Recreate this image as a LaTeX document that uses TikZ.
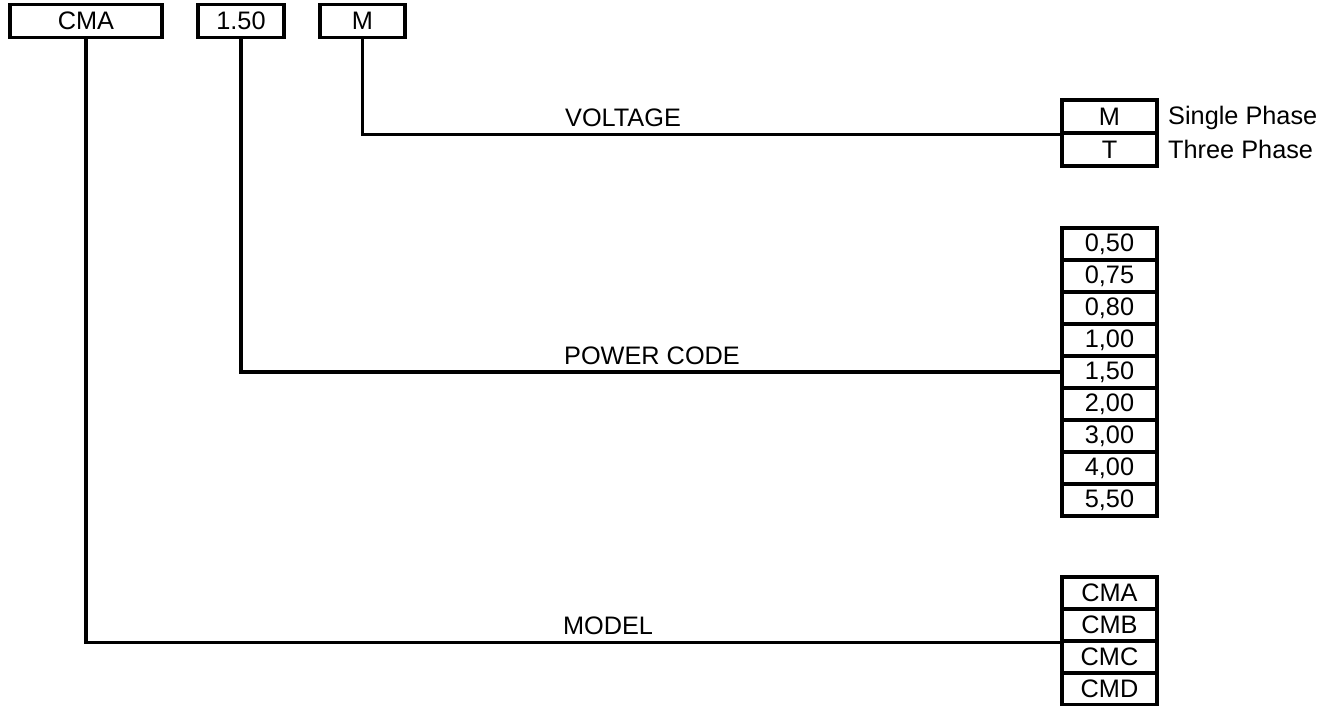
\documentclass[tikz,border=0pt]{standalone}
\usepackage{fontspec}
\setmainfont{Liberation Sans}
\usepackage{tikz}
\definecolor{ink}{HTML}{000000}
\tikzset{
  cell/.style={draw=ink, line width=1.8pt, minimum height=33*0.02cm, inner sep=0pt, font=\fontsize{14.4}{16}\selectfont},
  wire/.style={draw=ink, line width=1.8pt},
  lab/.style={text=ink, font=\fontsize{14.4}{16}\selectfont},
  every node/.style={text=ink}
}
\begin{document}
\begin{tikzpicture}[x=0.02cm, y=-0.02cm]
  \useasboundingbox (0,0) rectangle (1335,706);

  % code boxes on top
  \node[cell, minimum width=152*0.02cm] (tcma) at (86,21) {CMA};
  \node[cell, minimum width=86*0.02cm] (tpow) at (241,21) {1.50};
  \node[cell, minimum width=85*0.02cm] (tvol) at (362.5,21) {M};

  % option tables
  \node[cell, minimum width=95*0.02cm] (v1) at (1109.5,116.5) {M};
  \node[cell, minimum width=95*0.02cm] (v2) at (1109.5,149.5) {T};
  \node[lab, anchor=base west] (s1) at (1162,125) {Single Phase};
  \node[lab, anchor=base west] (s2) at (1162,158) {Three Phase};

  \foreach \v [count=\i] in {{0,50},{0,75},{0,80},{1,00},{1,50},{2,00},{3,00},{4,00},{5,50}}
    \node[cell, minimum width=95*0.02cm, minimum height=32*0.02cm] (p\i) at (1109.5,{244+32*(\i-1)}) {\v};

  \foreach \v [count=\i] in {CMA,CMB,CMC,CMD}
    \node[cell, minimum width=95*0.02cm, minimum height=32*0.02cm] (m\i) at (1109.5,{593+32*(\i-1)}) {\v};

  % leaders
  \draw[wire] (tvol.south) |- (v1.south west);
  \draw[wire] (tpow.south) |- (p5.west);
  \draw[wire] (tcma.south) |- (m2.south west);

  \node[lab] (lvol) at (623,117.5) {VOLTAGE};
  \node[lab] (lpow) at (652,356) {POWER CODE};
  \node[lab] (lmod) at (608,626) {MODEL};
\end{tikzpicture}
\end{document}
